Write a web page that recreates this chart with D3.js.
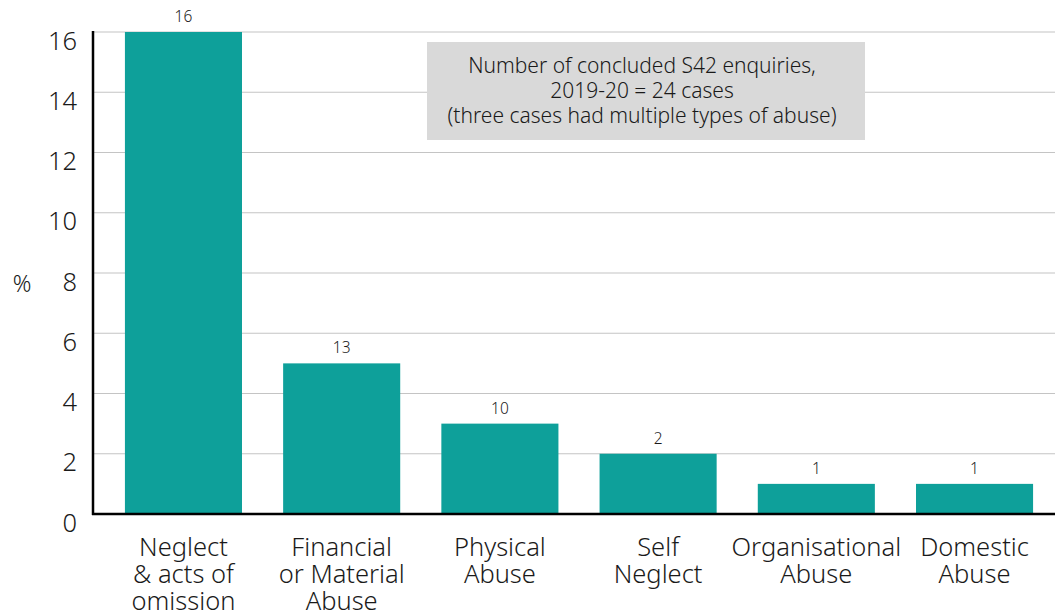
<!DOCTYPE html>
<html>
<head>
<meta charset="utf-8">
<script src="https://cdn.jsdelivr.net/npm/d3@7"></script>
<style>
body{margin:0;background:#fff;}
svg{display:block;}
text{font-family:"Noto Sans","Open Sans",sans-serif;font-weight:300;fill:#1a1a1a;}
</style>
</head>
<body>
<svg id="chart" width="1055" height="615"></svg>
<script>
const categories = [["Neglect","& acts of","omission"],["Financial","or Material","Abuse"],["Physical","Abuse"],["Self","Neglect"],["Organisational","Abuse"],["Domestic","Abuse"]];
const barValues = [16, 5, 3, 2, 1, 1];
const valueLabels = ["16", "13", "10", "2", "1", "1"];
const yTicks = [0, 2, 4, 6, 8, 10, 12, 14, 16];
const annotation = ["Number of concluded S42 enquiries,", "2019-20 = 24 cases", "(three cases had multiple types of abuse)"];

const svg = d3.select("#chart");
const W = 1055;
const y = d3.scaleLinear().domain([0, 16]).range([514, 32]);
const x = d3.scaleBand().domain(d3.range(categories.length)).range([98.5, 1059.5]).paddingInner(0.26).paddingOuter(0.167);

// gridlines
svg.append("g").selectAll("line").data(yTicks.filter(d => d > 0)).join("line")
  .attr("x1", 93).attr("x2", W).attr("y1", d => y(d)).attr("y2", d => y(d))
  .attr("stroke", "#c4c4c4").attr("stroke-width", 1.2);

// annotation box
svg.append("rect").attr("x", 427).attr("y", 42).attr("width", 438).attr("height", 98).attr("fill", "#d9d9d9");
svg.append("g").selectAll("text").data(annotation).join("text")
  .attr("x", 642).attr("y", (d, i) => 73 + i * 25)
  .attr("text-anchor", "middle").attr("font-size", 21)
  .text(d => d);

// bars
svg.append("g").selectAll("rect").data(barValues).join("rect")
  .attr("x", (d, i) => x(i)).attr("width", x.bandwidth())
  .attr("y", d => y(d)).attr("height", d => y(0) - y(d))
  .attr("fill", "#0ea09a");

// value labels
svg.append("g").selectAll("text").data(barValues).join("text")
  .attr("x", (d, i) => x(i) + x.bandwidth() / 2).attr("y", d => y(d) - 10)
  .attr("text-anchor", "middle").attr("font-size", 15.5)
  .text((d, i) => valueLabels[i]);

// y axis
const yAxis = d3.axisLeft(y).tickValues(yTicks).tickSize(0).tickPadding(16);
const gy = svg.append("g").attr("transform", "translate(93,0)").call(yAxis);
gy.select(".domain").remove();
gy.selectAll("text").attr("font-size", 25.5).attr("dy", 17)
  .style("font-family", "'Noto Sans','Open Sans',sans-serif").style("font-weight", 300).attr("fill", "#1a1a1a");
svg.append("line").attr("x1", 93).attr("x2", 93).attr("y1", 31).attr("y2", 515).attr("stroke", "#000").attr("stroke-width", 2.5);
svg.append("line").attr("x1", 92).attr("x2", W).attr("y1", 514).attr("y2", 514).attr("stroke", "#000").attr("stroke-width", 2.5);

svg.append("text").attr("x", 22).attr("y", 292).attr("text-anchor", "middle").attr("font-size", 23).text("%");

// category labels
const cat = svg.append("g").selectAll("text").data(categories).join("text")
  .attr("text-anchor", "middle").attr("font-size", 25.5);
cat.each(function(lines, i) {
  d3.select(this).selectAll("tspan").data(lines).join("tspan")
    .attr("x", x(i) + x.bandwidth() / 2).attr("y", (d, j) => 556 + j * 27).text(d => d);
});
</script>
</body>
</html>
